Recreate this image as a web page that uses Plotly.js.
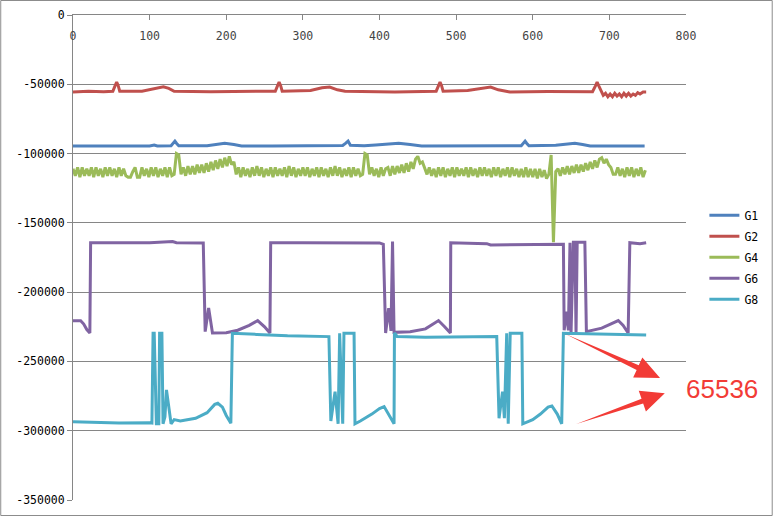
<!DOCTYPE html>
<html>
<head>
<meta charset="utf-8">
<script src="https://cdn.plot.ly/plotly-3.0.1.min.js"></script>
<style>
  html, body { margin: 0; padding: 0; background: #fff; }
  #chart { width: 775px; height: 517px; }
</style>
</head>
<body>
<div id="chart"></div>
<script>
// values, y in thousands
const g1X = [0, 100, 106, 110, 128, 131, 133, 135, 138, 175, 185, 198, 210, 220, 260, 300, 330, 352, 356, 359, 362, 380, 395, 410, 425, 440, 455, 585, 588, 590, 592, 595, 630, 645, 655, 665, 675, 730, 740, 746]
const g1Y = [-94.5, -94.5, -93.8, -94.5, -94.3, -92, -91, -92.5, -94.3, -94.3, -93.3, -92.5, -93.5, -94.5, -94.5, -94.3, -94, -94.2, -92.5, -91, -94, -94.3, -93.8, -93, -92.5, -93.5, -94.5, -94.3, -92.5, -91, -92.5, -94.3, -94, -93, -92.5, -93.5, -94.5, -94.5, -94.2, -94.5]

const g2X = [0, 20, 40, 52, 55, 57, 59, 61, 90, 100, 110, 118, 125, 132, 180, 230, 264, 267, 269, 271, 273, 310, 325, 335, 345, 355, 420, 474, 477, 479, 481, 483, 515, 530, 545, 555, 570, 620, 678, 682, 684, 686, 689, 692, 695, 698, 701, 704, 707, 710, 713, 716, 719, 722, 725, 728, 731, 734, 737, 740, 744, 748]
const g2Y = [-55.5, -55, -55.3, -55, -51, -48.5, -51, -55, -55, -54, -52.5, -51.8, -53, -55, -55.3, -55, -55, -51, -48.5, -51, -55, -54.5, -52.5, -52, -54, -55, -55.5, -55, -51, -48.5, -51, -55, -54.5, -53, -52, -54, -55.5, -55.2, -55.3, -51, -48.5, -51, -55, -58, -56.5, -59, -57, -59, -56.5, -58.5, -57, -59, -56.5, -58.5, -56.5, -58.5, -57, -58, -56, -57, -55.5, -55.5]

// G4 sampled every 3 points
const g4Step = 3
const g4Y = [
  -111, -116, -110, -117, -110, -116, -111, -116, -110, -117, -110, -116, -111, -117, -110, -116, -110, -116, -111, -117, -110, -116, -111, -116,
  -117, -117, -113, -110, -117, -117,
  -110, -116, -111, -117, -110, -116, -110, -117, -111, -116, -110, -117, -110, -116,
  -115, -100, -101, -115,
  -110, -116, -109, -115, -109, -115, -108, -114, -108, -114, -107, -113, -106, -112, -105, -111, -104, -110, -103, -109, -102, -108, -106,
  -115, -110, -117, -110, -116, -111, -117, -110,
  -116, -109, -116, -110, -117, -111, -116, -110,
  -117, -110, -116, -111, -116, -110, -117, -109,
  -116, -110, -117, -111, -116, -110, -116, -110,
  -117, -111, -116, -110, -117, -110, -116, -111,
  -117, -110, -116, -109, -116, -110, -117, -111,
  -116, -110, -117, -110, -116, -111, -116, -115,
  -100, -101, -115,
  -110, -116, -111, -117, -110, -116, -111,
  -110, -116, -109, -115, -109, -114, -108, -114, -107, -113, -106, -111, -104, -102, -107, -106, -110,
  -115, -110, -116, -111, -117, -110, -116, -110, -117, -111,
  -116, -110, -117, -110, -116, -111, -116, -110, -117, -110,
  -116, -111, -117, -110, -116, -110, -116, -111, -117, -110,
  -116, -110, -117, -111, -116, -110, -117, -110, -116, -111,
  -117, -111, -117, -110, -117, -111, -117, -111, -118, -111,
  -117, -112, -118,
  -115, -101, -164, -113,
  -111, -116, -110, -115, -109, -115, -109, -114, -108, -114, -108, -113, -107, -112, -106, -111, -105, -110, -104, -103, -107, -104, -108, -110, -115,
  -115, -110, -116, -111, -117, -110, -116, -110, -117, -111, -116, -110, -117, -112
]

const g6X = [0, 10, 14, 18, 22, 23, 100, 125, 130, 135, 170, 172.5, 177, 182, 200, 215, 230, 241, 250, 257, 258, 300, 360, 400, 405, 408, 412, 415, 417, 419, 440, 460, 470, 477, 485, 492.5, 493, 540, 545, 600, 640, 641, 644, 646.5, 648.6, 650, 653, 655, 656.5, 658, 668, 670, 690, 700, 711.6, 718, 724.5, 726.7, 740, 748]
const g6Y = [-220.6, -220.6, -223, -227, -229.5, -164.3, -164.3, -164, -163.5, -164.3, -164.5, -228.5, -211.5, -229.5, -229.3, -227.5, -224, -220.5, -225, -229.5, -164.3, -164.3, -164.5, -164.5, -165.5, -229.5, -211.5, -228, -163.5, -229, -228.5, -226.5, -223, -220.5, -225, -229.5, -164.3, -165, -166, -166, -165.5, -227.5, -214, -227.5, -164.3, -229, -164, -164, -229.5, -164, -164, -228.5, -226, -223.5, -220.5, -224, -229.5, -164.3, -165, -164.3]

const g8X = [0, 30, 60, 100, 103, 104.5, 106, 108.8, 112, 113, 116, 117.5, 120, 122, 126, 128, 132, 140, 160, 175, 185, 189, 195, 200, 206, 208, 240, 280, 334, 336.5, 342, 346, 348, 352, 353.6, 366.8, 368, 375, 390, 400, 406, 412, 419, 419.5, 423, 460, 500, 553, 556, 560.6, 563, 566, 568, 570.6, 585.8, 587, 600, 610, 620, 625, 632, 637.8, 640, 700, 748]
const g8Y = [-293.5, -294, -294.5, -294.3, -294.5, -229.7, -229.7, -295, -295, -229.7, -229.7, -295, -290, -270.5, -285, -295, -292, -293, -291, -287, -281, -280.2, -283, -289, -294.6, -229.7, -230.5, -231.5, -232.1, -293, -271.8, -295, -229.7, -295, -229.7, -229.7, -295, -293, -288, -284, -282.6, -288, -295, -229.5, -232, -232.5, -232.3, -232.1, -291, -271.8, -291, -229.7, -295, -229.7, -229.7, -295, -292, -288, -283, -282.1, -288, -295, -229.7, -230.5, -231]

const seriesNames = ['G1', 'G2', 'G4', 'G6', 'G8']
const seriesColors = ['#4f81bd', '#c0504d', '#9bbb59', '#8064a2', '#4bacc6']

const yTickVals = [0, -50000, -100000, -150000, -200000, -250000, -300000, -350000]
const yTickText = ['0', '-50000', '-100000', '-150000', '-200000', '-250000', '-300000', '-350000']
const xTickVals = [0, 100, 200, 300, 400, 500, 600, 700, 800]

const calloutText = '65536'

const inThousands = arr => arr.map(v => v * 1000)
const g4X = g4Y.map((v, i) => i * g4Step)

const xs = [g1X, g2X, g4X, g6X, g8X]
const ys = [g1Y, g2Y, g4Y, g6Y, g8Y]

const traces = seriesNames.map((name, i) => ({
  x: xs[i],
  y: inThousands(ys[i]),
  name,
  legendgroup: name,
  type: 'scatter',
  mode: 'lines',
  line: { color: seriesColors[i], width: 3 },
  hoverinfo: 'skip'
}))

// decorations are placed in pixels, converted to paper coordinates
const W = 775, H = 517
const M = { l: 73, r: 87, t: 15, b: 17 }
const px = x => (x - M.l) / (W - M.l - M.r)
const py = y => (H - M.b - y) / (H - M.t - M.b)
const pathFromPx = pts => 'M ' + pts.map(p => px(p[0]).toFixed(4) + ',' + py(p[1]).toFixed(4)).join(' L ') + ' Z'

const arrowRed = '#f23b36'
const arrowUpper = [[567, 334], [640.6, 365.3], [644.2, 357.6], [662, 378], [635, 377.6], [638.5, 369.9]]
const arrowLower = [[578, 424], [645, 403.5], [647.8, 411.5], [666.7, 393.3], [640.6, 390.7], [643.4, 398.7]]

const layout = {
  width: W,
  height: H,
  margin: M,
  paper_bgcolor: '#fff',
  plot_bgcolor: '#fff',
  font: { family: 'DejaVu Sans Mono, monospace', size: 11.5, color: '#000' },
  showlegend: true,
  legend: {
    x: 1.03, y: 0.617, xanchor: 'left', yanchor: 'top',
    font: { size: 11.5, color: '#000' },
    tracegroupgap: 2,
    bgcolor: 'rgba(0,0,0,0)'
  },
  xaxis: {
    range: [0, 800],
    side: 'top',
    tickvals: xTickVals,
    ticks: 'inside',
    ticklen: 5,
    tickcolor: '#868686',
    ticklabelposition: 'inside',
    ticklabeloverflow: 'allow',
    ticklabelstandoff: 11,
    showline: true,
    linecolor: '#868686',
    linewidth: 1,
    showgrid: false,
    zeroline: false,
    fixedrange: true
  },
  yaxis: {
    range: [-350000, 0],
    tickvals: yTickVals,
    ticktext: yTickText,
    ticks: 'outside',
    ticklen: 5,
    tickcolor: '#868686',
    showline: true,
    linecolor: '#868686',
    linewidth: 1,
    showgrid: true,
    gridcolor: '#868686',
    gridwidth: 1,
    zeroline: false,
    fixedrange: true
  },
  shapes: [
    { type: 'rect', xref: 'paper', yref: 'paper', x0: px(0.5), x1: px(774.5), y0: py(515.5), y1: py(0.5),
      line: { color: '#8c8c8c', width: 1 }, layer: 'below' },
    { type: 'path', xref: 'paper', yref: 'paper', path: pathFromPx(arrowUpper), fillcolor: arrowRed, line: { width: 0 } },
    { type: 'path', xref: 'paper', yref: 'paper', path: pathFromPx(arrowLower), fillcolor: arrowRed, line: { width: 0 } }
  ],
  annotations: [
    { text: calloutText, xref: 'paper', yref: 'paper', x: px(686), y: py(389), xanchor: 'left', yanchor: 'middle',
      showarrow: false, font: { family: 'Liberation Sans, Arial, sans-serif', size: 26, color: arrowRed } }
  ]
}

Plotly.newPlot('chart', traces, layout, { displayModeBar: false, staticPlot: true })
</script>
</body>
</html>
